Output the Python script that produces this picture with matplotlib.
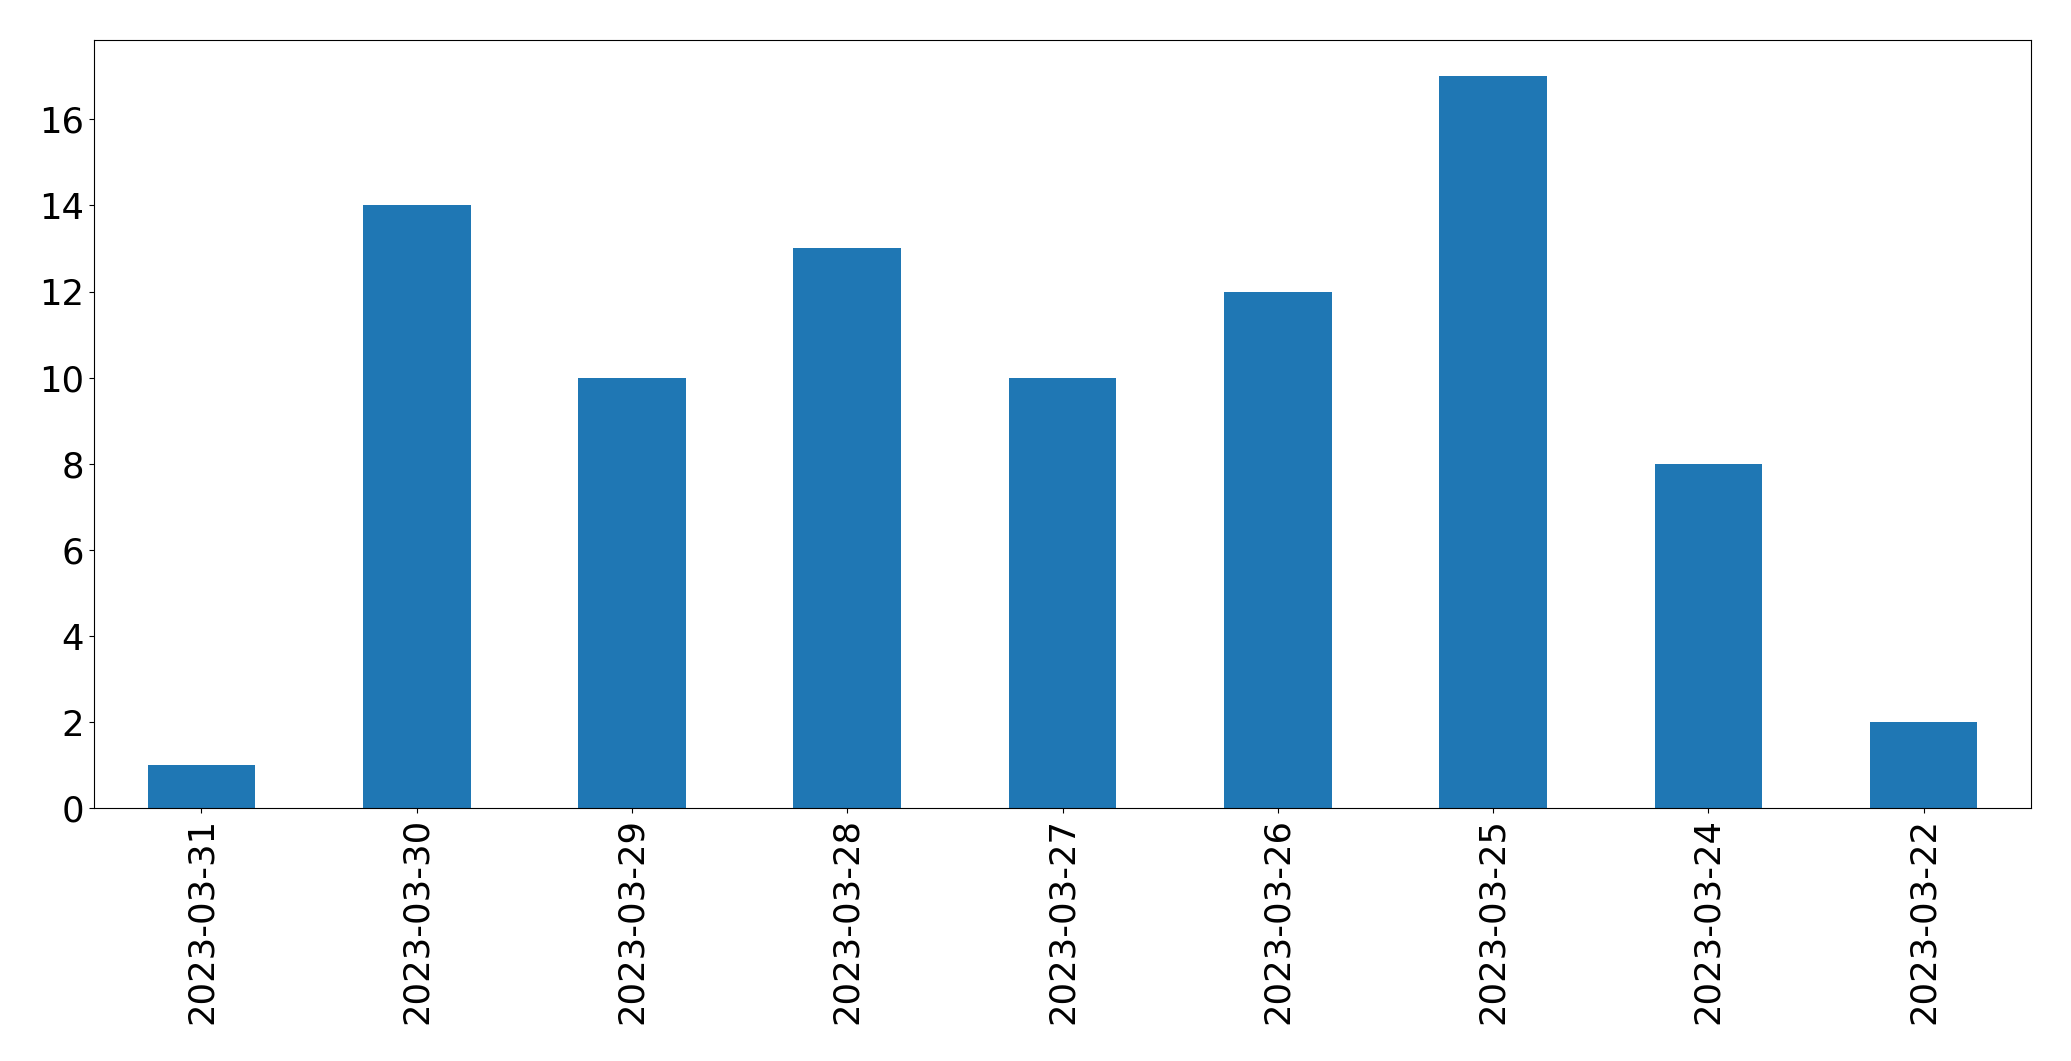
import matplotlib
matplotlib.use("Agg")
import matplotlib.pyplot as plt

dates = ["2023-03-31", "2023-03-30", "2023-03-29", "2023-03-28", "2023-03-27",
         "2023-03-26", "2023-03-25", "2023-03-24", "2023-03-22"]
counts = [1, 14, 10, 13, 10, 12, 17, 8, 2]

fig = plt.figure(figsize=(20.71, 10.61), dpi=100)
ax = fig.add_axes([0.0453, 0.2381, 0.9355, 0.7246])
x = range(len(dates))
ax.bar(x, counts, width=0.5, color="#1f77b4")
ax.set_xticks(list(x))
ax.set_xticklabels(dates, rotation=90, fontsize=25.5)
ax.tick_params(axis="y", labelsize=25.5)
ax.set_xlim(-0.5, len(dates) - 0.5)
ax.set_ylim(0, 17.85)
ax.set_yticks(range(0, 17, 2))
fig.savefig("out.png", dpi=100)
